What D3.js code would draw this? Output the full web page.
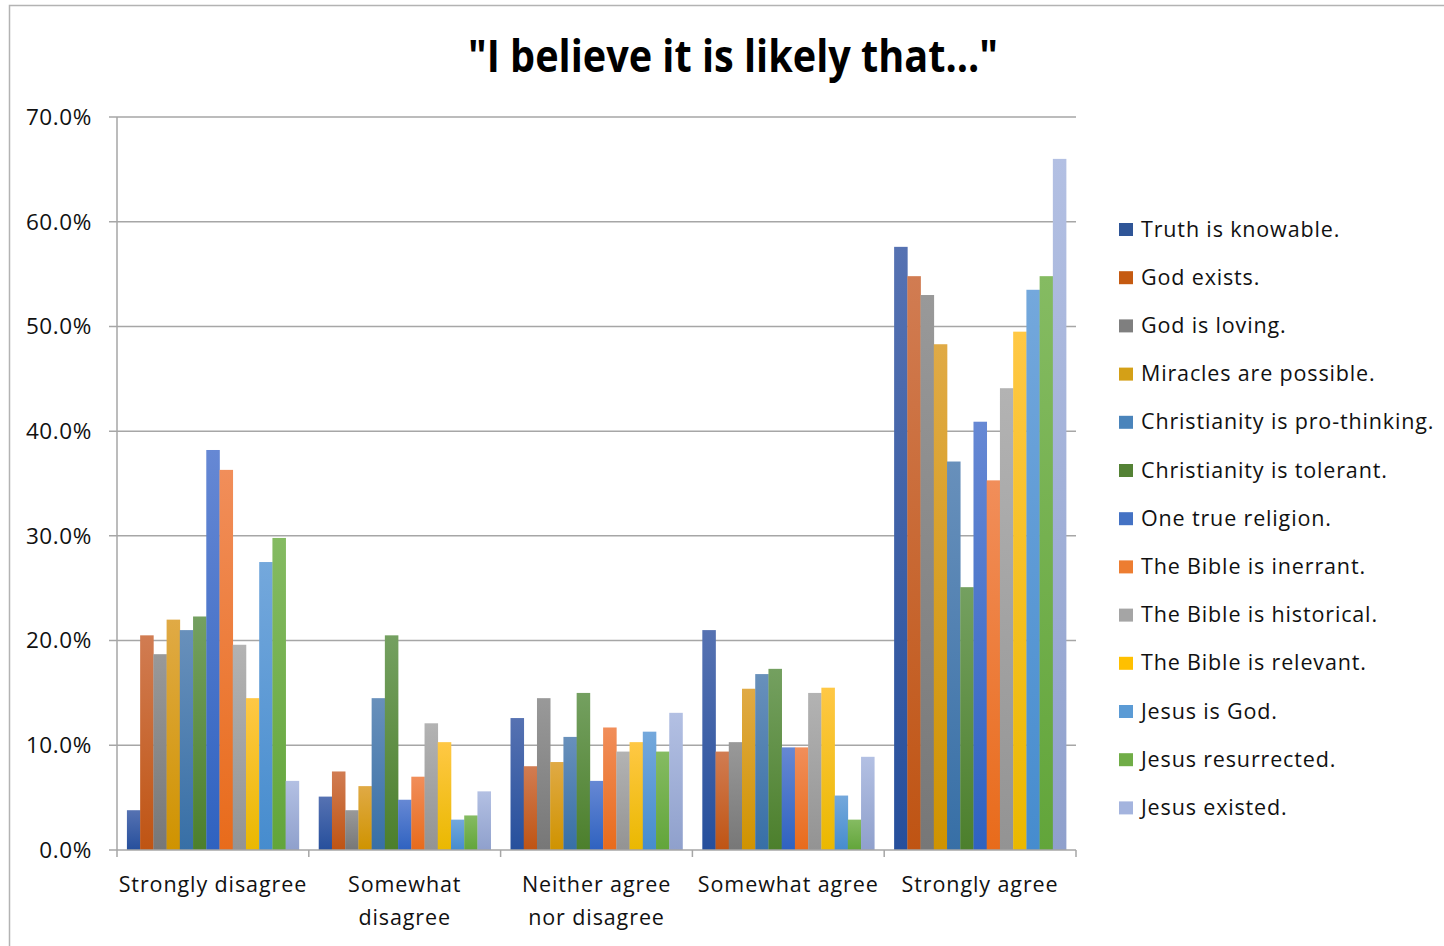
<!DOCTYPE html>
<html>
<head>
<meta charset="utf-8">
<script src="https://cdn.jsdelivr.net/npm/d3@7"></script>
<style>
  html, body { margin: 0; padding: 0; background: #fff; }
  svg { display: block; }
</style>
</head>
<body>
<svg id="chart" width="1444" height="946"></svg>
<script>
// Response categories along the x axis (each label may wrap to two lines)
const categories = ["Strongly disagree", "Somewhat disagree", "Neither agree nor disagree", "Somewhat agree", "Strongly agree"];
const categoryLines = [["Strongly disagree"], ["Somewhat", "disagree"], ["Neither agree", "nor disagree"], ["Somewhat agree"], ["Strongly agree"]];

// Statements (one series each)
const seriesNames = [
  "Truth is knowable.", "God exists.", "God is loving.", "Miracles are possible.",
  "Christianity is pro-thinking.", "Christianity is tolerant.", "One true religion.",
  "The Bible is inerrant.", "The Bible is historical.", "The Bible is relevant.",
  "Jesus is God.", "Jesus resurrected.", "Jesus existed."
];

// Percent of respondents, one array per statement, ordered like categories
const truthKnowable   = [3.8, 5.1, 12.6, 21.0, 57.6];
const godExists       = [20.5, 7.5, 8.0, 9.4, 54.8];
const godLoving       = [18.7, 3.8, 14.5, 10.3, 53.0];
const miracles        = [22.0, 6.1, 8.4, 15.4, 48.3];
const proThinking     = [21.0, 14.5, 10.8, 16.8, 37.1];
const tolerant        = [22.3, 20.5, 15.0, 17.3, 25.1];
const oneTrueReligion = [38.2, 4.8, 6.6, 9.8, 40.9];
const bibleInerrant   = [36.3, 7.0, 11.7, 9.8, 35.3];
const bibleHistorical = [19.6, 12.1, 9.4, 15.0, 44.1];
const bibleRelevant   = [14.5, 10.3, 10.3, 15.5, 49.5];
const jesusGod        = [27.5, 2.9, 11.3, 5.2, 53.5];
const jesusResurrected= [29.8, 3.3, 9.4, 2.9, 54.8];
const jesusExisted    = [6.6, 5.6, 13.1, 8.9, 66.0];

const seriesValues = [truthKnowable, godExists, godLoving, miracles, proThinking, tolerant,
  oneTrueReligion, bibleInerrant, bibleHistorical, bibleRelevant, jesusGod, jesusResurrected, jesusExisted];

const yTicks = [0, 10, 20, 30, 40, 50, 60, 70];

// Fill colors per series: [top, bottom] of each bar's vertical gradient
const seriesColors = [
  ["#5672b2", "#264f9c"],
  ["#d17c52", "#bf5413"],
  ["#999999", "#777777"],
  ["#e0aa45", "#cf9300"],
  ["#6890bb", "#376fa6"],
  ["#74a060", "#4c7f2c"],
  ["#6688d4", "#2f62c0"],
  ["#f18e5a", "#e86b1b"],
  ["#b3b3b3", "#939393"],
  ["#ffc845", "#eab800"],
  ["#74a8dc", "#468cce"],
  ["#85bb62", "#62a53a"],
  ["#b3c0e3", "#8fa0cc"]
];
const legendColors = ["#2f5597", "#c55a11", "#7f7f7f", "#d4a017", "#4a84bb", "#548235", "#4472c4",
  "#ed7d31", "#a5a5a5", "#ffc000", "#5b9bd5", "#70ad47", "#a4b4de"];

const svg = d3.select("#chart");
const font = "'Open Sans', 'Noto Sans', sans-serif";

// Chart frame
svg.append("rect").attr("x", 9.5).attr("y", 5.5).attr("width", 1500).attr("height", 1000)
  .attr("fill", "none").attr("stroke", "#b3b3b3").attr("stroke-width", 1.5);

const plot = { left: 117, right: 1076, top: 117, bottom: 850 };

// Gradients
const defs = svg.append("defs");
seriesColors.forEach((c, i) => {
  const g = defs.append("linearGradient").attr("id", "grad" + i)
    .attr("x1", 0).attr("y1", 0).attr("x2", 0).attr("y2", 1);
  g.append("stop").attr("offset", "0%").attr("stop-color", c[0]);
  g.append("stop").attr("offset", "100%").attr("stop-color", c[1]);
});

const y = d3.scaleLinear().domain([0, 70]).range([plot.bottom, plot.top]);
const x0 = d3.scaleBand().domain(categories).range([plot.left, plot.right]).padding(0);
// Excel-style gap width of 150% of one bar
const nS = seriesNames.length;
const innerPad = (1.5 / (nS + 1.5));
const x1 = d3.scaleBand().domain(d3.range(nS))
  .range([x0.bandwidth() * innerPad / 2, x0.bandwidth() * (1 - innerPad / 2)]).padding(0);

// Gridlines
svg.append("g").selectAll("line").data(yTicks.filter(t => t > 0)).join("line")
  .attr("x1", plot.left - 8).attr("x2", plot.right)
  .attr("y1", d => y(d)).attr("y2", d => y(d))
  .attr("stroke", "#a6a6a6").attr("stroke-width", 1.5);

// Bars
const groups = svg.append("g").selectAll("g").data(categories).join("g")
  .attr("transform", d => `translate(${x0(d)},0)`);
groups.each(function(cat, ci) {
  d3.select(this).selectAll("rect").data(seriesValues.map((vals, si) => ({ si, v: vals[ci] }))).join("rect")
    .attr("x", d => x1(d.si))
    .attr("width", x1.bandwidth() + 0.3)
    .attr("y", d => y(d.v))
    .attr("height", d => y(0) - y(d.v))
    .attr("fill", d => `url(#grad${d.si})`);
});

// Y axis line and ticks
svg.append("line").attr("x1", plot.left).attr("x2", plot.left).attr("y1", plot.top).attr("y2", plot.bottom)
  .attr("stroke", "#a6a6a6").attr("stroke-width", 1.5);
svg.append("line").attr("x1", plot.left - 8).attr("x2", plot.left).attr("y1", plot.bottom).attr("y2", plot.bottom)
  .attr("stroke", "#a6a6a6").attr("stroke-width", 1.5);
svg.append("g").selectAll("text").data(yTicks).join("text")
  .attr("x", 92).attr("y", d => y(d)).attr("dy", "0.35em")
  .attr("text-anchor", "end").attr("font-family", font).attr("font-size", 22.5)
  .attr("letter-spacing", 0.6).attr("fill", "#111")
  .text(d => d3.format(".1f")(d) + "%");

// X axis line and category ticks
svg.append("line").attr("x1", plot.left).attr("x2", plot.right).attr("y1", plot.bottom).attr("y2", plot.bottom)
  .attr("stroke", "#a6a6a6").attr("stroke-width", 1.5);
const xBounds = categories.map(c => x0(c)).concat([plot.right]);
svg.append("g").selectAll("line").data(xBounds).join("line")
  .attr("x1", d => d).attr("x2", d => d).attr("y1", plot.bottom).attr("y2", plot.bottom + 7)
  .attr("stroke", "#a6a6a6").attr("stroke-width", 1.5);

const xl = svg.append("g").selectAll("text").data(categories).join("text")
  .attr("x", d => x0(d) + x0.bandwidth() / 2).attr("y", 892)
  .attr("text-anchor", "middle").attr("font-family", font).attr("font-size", 21.5)
  .attr("letter-spacing", 0.9).attr("fill", "#111");
xl.each(function(d, i) {
  categoryLines[i].forEach((line, li) => {
    d3.select(this).append("tspan").attr("x", x0(d) + x0.bandwidth() / 2)
      .attr("dy", li === 0 ? 0 : 33).text(line);
  });
});

// Title
svg.append("text").attr("x", 733).attr("y", 72).attr("text-anchor", "middle")
  .attr("font-family", font).attr("font-weight", "bold").attr("font-size", 44).attr("fill", "#000")
  .attr("textLength", 530).attr("lengthAdjust", "spacingAndGlyphs")
  .text('"I believe it is likely that..."');

// Legend
const legend = svg.append("g").selectAll("g").data(seriesNames).join("g")
  .attr("transform", (d, i) => `translate(1119, ${229 + i * 48.2})`);
legend.append("rect").attr("x", 0).attr("y", -6).attr("width", 14).attr("height", 13)
  .attr("fill", (d, i) => legendColors[i]);
legend.append("text").attr("x", 22).attr("y", 0).attr("dy", "0.35em")
  .attr("font-family", font).attr("font-size", 21.5).attr("letter-spacing", 0.85)
  .attr("fill", "#111").text(d => d);
</script>
</body>
</html>
